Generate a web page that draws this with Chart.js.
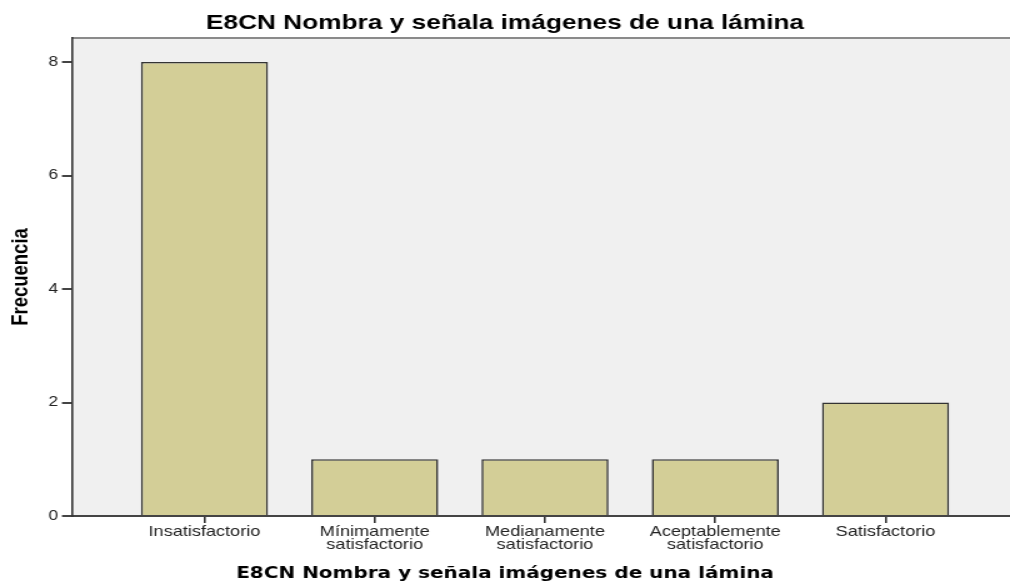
<!DOCTYPE html>
<html>
<head>
<meta charset="utf-8">
<script src="https://cdn.jsdelivr.net/npm/chart.js@4/dist/chart.umd.min.js"></script>
<style>
  html, body { margin: 0; padding: 0; background: #ffffff; overflow: hidden; }
  #wrap { position: absolute; left: 0; top: 0; width: 808px; height: 585px; transform: scaleX(1.25); transform-origin: 0 0; }
</style>
</head>
<body>
<div id="wrap"><canvas id="c"></canvas></div>
<script>
const chartTitle = 'E8CN Nombra y señala imágenes de una lámina';
const xAxisTitle = 'E8CN Nombra y señala imágenes de una lámina';
const yAxisTitle = 'Frecuencia';
const categories = [
  ['Insatisfactorio'],
  ['Mínimamente', 'satisfactorio'],
  ['Medianamente', 'satisfactorio'],
  ['Aceptablemente', 'satisfactorio'],
  ['Satisfactorio']
];
const frequencies = [8, 1, 1, 1, 2];
const yTicks = [0, 2, 4, 6, 8];

const plotBg = {
  id: 'plotBg',
  beforeDraw(chart) {
    const { ctx, chartArea: a } = chart;
    ctx.save();
    ctx.fillStyle = '#f0f0f0';
    ctx.fillRect(a.left, a.top, a.right - a.left, a.bottom - a.top);
    ctx.strokeStyle = '#8a8a8a';
    ctx.lineWidth = 2;
    ctx.beginPath();
    ctx.moveTo(a.left, a.top);
    ctx.lineTo(a.right, a.top);
    ctx.stroke();
    ctx.restore();
  }
};

new Chart(document.getElementById('c'), {
  type: 'bar',
  data: {
    datasets: [{
      data: frequencies.map((v, i) => ({ x: i, y: v })),
      backgroundColor: '#d3ce97',
      borderColor: '#333333',
      borderWidth: 1.6,
      barPercentage: 0.746,
      categoryPercentage: 1
    }]
  },
  options: {
    responsive: true,
    maintainAspectRatio: false,
    animation: false,
    devicePixelRatio: 1,
    layout: { padding: 0 },
    plugins: {
      legend: { display: false },
      tooltip: { enabled: false },
      title: {
        display: true,
        text: chartTitle,
        color: '#000000',
        font: { family: 'Liberation Sans, Arial, sans-serif', size: 21, weight: 'bold', lineHeight: 1.2 },
        padding: { top: 11, bottom: 1.8 }
      },
      subtitle: {
        display: true,
        position: 'bottom',
        text: xAxisTitle,
        color: '#000000',
        font: { family: 'DejaVu Sans, sans-serif', size: 16, weight: 'bold', lineHeight: 1.2 },
        padding: { top: 0, bottom: 1.4 }
      }
    },
    scales: {
      x: {
        type: 'linear',
        offset: false,
        min: -0.778,
        max: 4.731,
        afterBuildTicks(scale) { scale.ticks = categories.map((c, i) => ({ value: i })); },
        afterFit(scale) { scale.height = 48.4; },
        ticks: {
          autoSkip: false,
          maxRotation: 0,
          minRotation: 0,
          padding: 2,
          color: '#222222',
          font: { family: 'Liberation Sans, Arial, sans-serif', size: 14.5, lineHeight: 0.9 },
          callback(value) { return categories[Math.round(value)] || ''; }
        },
        grid: { display: true, offset: false, drawOnChartArea: false, drawTicks: true, tickLength: 7, color: '#333333', lineWidth: 1.6 },
        border: { display: true, color: '#444444', width: 2 }
      },
      y: {
        type: 'linear',
        min: 0,
        max: 8.423,
        afterBuildTicks(scale) { scale.ticks = yTicks.map(v => ({ value: v })); },
        afterFit(scale) { scale.width = 57.6; },
        ticks: {
          padding: 3,
          color: '#222222',
          font: { family: 'Liberation Sans, Arial, sans-serif', size: 14 }
        },
        grid: { display: true, drawOnChartArea: false, drawTicks: true, tickLength: 8, color: '#444444', lineWidth: 2 },
        border: { display: true, color: '#333333', width: 1.6 },
        title: {
          display: true,
          text: yAxisTitle,
          color: '#000000',
          font: { family: 'Liberation Sans Narrow, Arial Narrow, Liberation Sans, sans-serif', size: 18.5, weight: 'bold', lineHeight: 1.2 },
          padding: { top: 5.6, bottom: 0 }
        }
      }
    }
  },
  plugins: [plotBg]
});
</script>
</body>
</html>
